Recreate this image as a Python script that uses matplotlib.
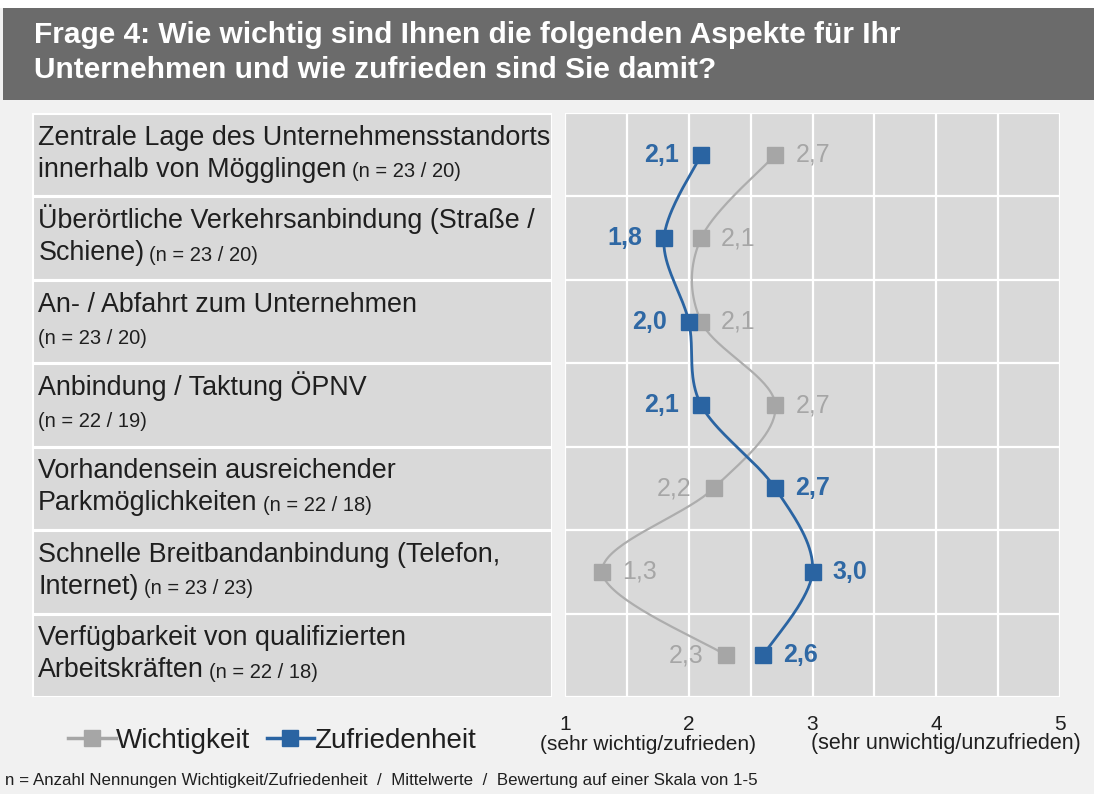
import numpy as np
import matplotlib
matplotlib.use("Agg")
import matplotlib.pyplot as plt
import matplotlib.transforms as mtransforms
from matplotlib.patches import Rectangle
from matplotlib.lines import Line2D

# ---------------- data ----------------
title = "Frage 4: Wie wichtig sind Ihnen die folgenden Aspekte für Ihr\nUnternehmen und wie zufrieden sind Sie damit?"
cat_line1 = [
    "Zentrale Lage des Unternehmensstandorts",
    "Überörtliche Verkehrsanbindung (Straße /",
    "An- / Abfahrt zum Unternehmen",
    "Anbindung / Taktung ÖPNV",
    "Vorhandensein ausreichender",
    "Schnelle Breitbandanbindung (Telefon,",
    "Verfügbarkeit von qualifizierten",
]
cat_line2 = [
    "innerhalb von Mögglingen",
    "Schiene)",
    "",
    "",
    "Parkmöglichkeiten",
    "Internet)",
    "Arbeitskräften",
]
n_counts = ["(n = 23 / 20)", "(n = 23 / 20)", "(n = 23 / 20)", "(n = 22 / 19)",
            "(n = 22 / 18)", "(n = 23 / 23)", "(n = 22 / 18)"]
wichtigkeit = [2.7, 2.1, 2.1, 2.7, 2.2, 1.3, 2.3]
zufriedenheit = [2.1, 1.8, 2.0, 2.1, 2.7, 3.0, 2.6]
series_names = ["Wichtigkeit", "Zufriedenheit"]
tick_values = [1, 2, 3, 4, 5]
scale_labels = ["(sehr wichtig/zufrieden)", "(sehr unwichtig/unzufrieden)"]
footnote = "n = Anzahl Nennungen Wichtigkeit/Zufriedenheit  /  Mittelwerte  /  Bewertung auf einer Skala von 1-5"

# ---------------- style ----------------
W, H = 1094, 794
FONT = ["Liberation Sans", "DejaVu Sans"]
plt.rcParams["font.family"] = FONT
BLUE = "#2a64a2"
BLUE_TXT = "#2f68a4"
GRAY = "#a6a6a6"
GRAY_LINE = "#adadad"
BOX = "#d9d9d9"
PAGE = "#f1f1f1"
TITLEBAR = "#6b6b6b"
TXT = "#1f1f1f"
wich_sides = ["right", "right", "right", "right", "left", "right", "left"]
zuf_sides = ["left", "left", "left", "left", "right", "right", "right"]

fig = plt.figure(figsize=(W / 100, H / 100), dpi=100, facecolor=PAGE)

def fx(px):
    return px / W

def fy(py):
    return 1 - py / H

# white strip on top + title bar
fig.patches.append(Rectangle((0, fy(8)), 1, 8 / H, transform=fig.transFigure,
                             facecolor="white", edgecolor="none", zorder=0))
fig.patches.append(Rectangle((fx(3), fy(100)), 1, 92 / H, transform=fig.transFigure,
                             facecolor=TITLEBAR, edgecolor="none", zorder=0))
tlines = title.split("\n")
fig.text(fx(34), fy(43), tlines[0], color="white", fontsize=21.5,
         fontweight="bold", va="baseline", ha="left")
fig.text(fx(34), fy(78), tlines[1], color="white", fontsize=21.5,
         fontweight="bold", va="baseline", ha="left")

n = len(wichtigkeit)
rows = np.arange(n)
top_px, bot_px = 113, 697

# ---------------- label column ----------------
axl = fig.add_axes([fx(32), fy(bot_px), fx(552 - 32), (bot_px - top_px) / H])
axl.set_xlim(0, 1)
axl.set_ylim(n - 0.5, -0.5)
axl.barh(rows, 1, height=1, left=0, color=BOX, edgecolor="white", linewidth=2.2)
axl.axis("off")

for i in rows:
    axl.text(0.012, i, cat_line1[i], fontsize=19.4, color=TXT, va="baseline", ha="left",
             transform=mtransforms.offset_copy(axl.transData, fig, x=0, y=10, units="dots"))
    tr2 = mtransforms.offset_copy(axl.transData, fig, x=0, y=-22, units="dots")
    if cat_line2[i]:
        t2 = axl.text(0.012, i, cat_line2[i], fontsize=19.4, color=TXT,
                      va="baseline", ha="left", transform=tr2)
        axl.annotate(n_counts[i], xy=(1, 0), xycoords=t2, xytext=(5, 1.5),
                     textcoords="offset pixels", fontsize=14.5, color=TXT,
                     va="bottom", ha="left")
    else:
        axl.text(0.012, i, n_counts[i], fontsize=14.5, color=TXT,
                 va="baseline", ha="left", transform=tr2)

# ---------------- plot area ----------------
ax = fig.add_axes([fx(565), fy(bot_px), fx(1060 - 565), (bot_px - top_px) / H])
ax.set_facecolor(BOX)
ax.set_xlim(1, 5)
ax.set_ylim(n - 0.5, -0.5)
for s in ax.spines.values():
    s.set_visible(False)
ax.set_xticks([])
ax.set_yticks([])
for xv in np.arange(1, 5.01, 0.5):
    ax.axvline(xv, color="white", lw=1.6, zorder=1)
for yv in np.arange(-0.5, n, 1.0):
    ax.axhline(yv, color="white", lw=1.6, zorder=1)


def smooth(xs, ys, sx=124.0, sy=83.4, steps=40):
    P = np.column_stack([np.asarray(xs) * sx, np.asarray(ys) * sy])
    Pp = np.vstack([P[0], P, P[-1]])
    out = []
    for k in range(len(P) - 1):
        p0, p1, p2, p3 = Pp[k], Pp[k + 1], Pp[k + 2], Pp[k + 3]
        c1 = p1 + (p2 - p0) / 6.0
        c2 = p2 - (p3 - p1) / 6.0
        t = np.linspace(0, 1, steps)[:, None]
        seg = ((1 - t) ** 3) * p1 + 3 * ((1 - t) ** 2) * t * c1 + 3 * (1 - t) * t ** 2 * c2 + t ** 3 * p2
        out.append(seg if k == 0 else seg[1:])
    out = np.vstack(out)
    return out[:, 0] / sx, out[:, 1] / sy


for vals, color, mcolor, lw, sides, tcolor, weight in [
    (wichtigkeit, GRAY_LINE, GRAY, 1.6, wich_sides, GRAY, "normal"),
    (zufriedenheit, BLUE, BLUE, 2.0, zuf_sides, BLUE_TXT, "bold"),
]:
    sxv, syv = smooth(vals, rows)
    ax.plot(sxv, syv, color=color, lw=lw, zorder=3, solid_capstyle="round")
    ax.plot(vals, rows, ls="none", marker="s", ms=11, color=mcolor, zorder=4)
    for i, v in enumerate(vals):
        lab = f"{v:.1f}".replace(".", ",")
        if sides[i] == "left":
            ax.annotate(lab, xy=(v, i), xytext=(-22, 0), textcoords="offset pixels",
                        ha="right", va="center", fontsize=18, color=tcolor,
                        fontweight=weight, zorder=5)
        else:
            ax.annotate(lab, xy=(v, i), xytext=(20, 0), textcoords="offset pixels",
                        ha="left", va="center", fontsize=18, color=tcolor,
                        fontweight=weight, zorder=5)

# tick labels under the plot
tb = mtransforms.blended_transform_factory(ax.transData, fig.transFigure)
for tv in tick_values:
    ax.text(tv, fy(724), str(tv), transform=tb, ha="center", va="center",
            fontsize=15, color=TXT, clip_on=False)
ax.text(0.80, fy(744), scale_labels[0], transform=tb, ha="left", va="center",
        fontsize=15, color=TXT, clip_on=False)
ax.text(2.99, fy(744), scale_labels[1], transform=tb, ha="left", va="center",
        fontsize=15.5, color=TXT, clip_on=False)

# legend
handles = [Line2D([], [], color=GRAY, lw=2.5, marker="s", ms=11),
           Line2D([], [], color=BLUE, lw=2.5, marker="s", ms=11)]
fig.legend(handles, series_names, loc="center", bbox_to_anchor=(fx(272), fy(741)),
           ncol=2, frameon=False, fontsize=20, handlelength=1.7, handletextpad=0.0,
           columnspacing=0.6, labelcolor=TXT, borderpad=0, borderaxespad=0)

# footnote
fig.text(fx(5), fy(780), footnote, fontsize=12.2, color=TXT, ha="left", va="center")

fig.savefig("out.png", dpi=100, facecolor=PAGE)
